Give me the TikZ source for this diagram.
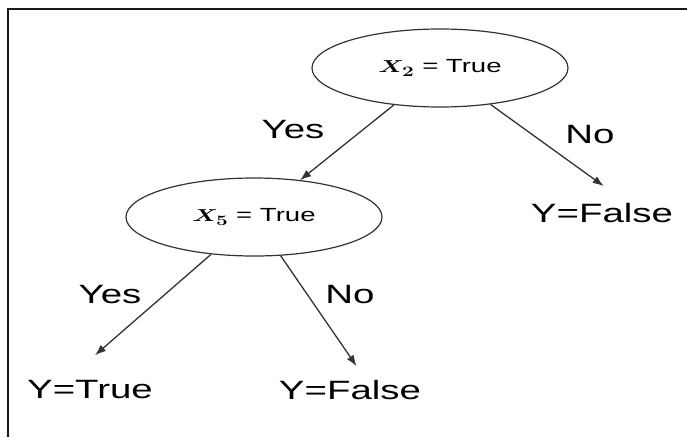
\documentclass[tikz,border=0pt]{standalone}
\usepackage{fontspec}
\usepackage{amsmath}
\usepackage{graphicx}
\setmainfont{Liberation Sans}
\usetikzlibrary{shapes.geometric,arrows.meta}

\begin{document}
\begin{tikzpicture}[x=1pt,y=-1pt,
    test/.style={draw=black!80, ellipse, line width=1.2pt, minimum width=256pt, minimum height=78pt, inner sep=0pt, font=\fontsize{19}{22}\selectfont},
    leaf/.style={font=\fontsize{26.5}{30}\selectfont, xscale=1.45, inner sep=0pt},
    branch/.style={draw=black!80, line width=1.3pt, -{Latex[length=11pt,width=8pt]}}]
\useasboundingbox (0,0) rectangle (687,437);

% frame
\draw[line width=2.5pt, black!90] (8,437) -- (8,9) -- (687,9);

% tests
\node[test] (root) at (440,68) {\scalebox{1.45}[1]{$\boldsymbol{X_2}$ = True}};
\node[test] (xfive) at (254,217) {\scalebox{1.45}[1]{$\boldsymbol{X_5}$ = True}};

% leaves
\node[leaf] (fr) at (602,213) {Y=False};
\node[leaf] (lt) at (90,390) {Y=True};
\node[leaf] (lf) at (350,390) {Y=False};

% branch labels
\node[leaf] (yesroot) at (293,130) {Yes};
\node[leaf] (noroot) at (590,135) {No};
\node[leaf] (yesxfive) at (110,295) {Yes};
\node[leaf] (noxfive) at (350,295) {No};

% branches
\draw[branch] (root) -- (xfive);
\draw[branch, shorten >=46pt] (root) -- ([xshift=39pt]fr.center);
\draw[branch, shorten >=53pt] (xfive) -- ([xshift=-35pt]lt.center);
\draw[branch, shorten >=29pt] (xfive) -- ([xshift=23pt]lf.center);

\end{tikzpicture}
\end{document}
